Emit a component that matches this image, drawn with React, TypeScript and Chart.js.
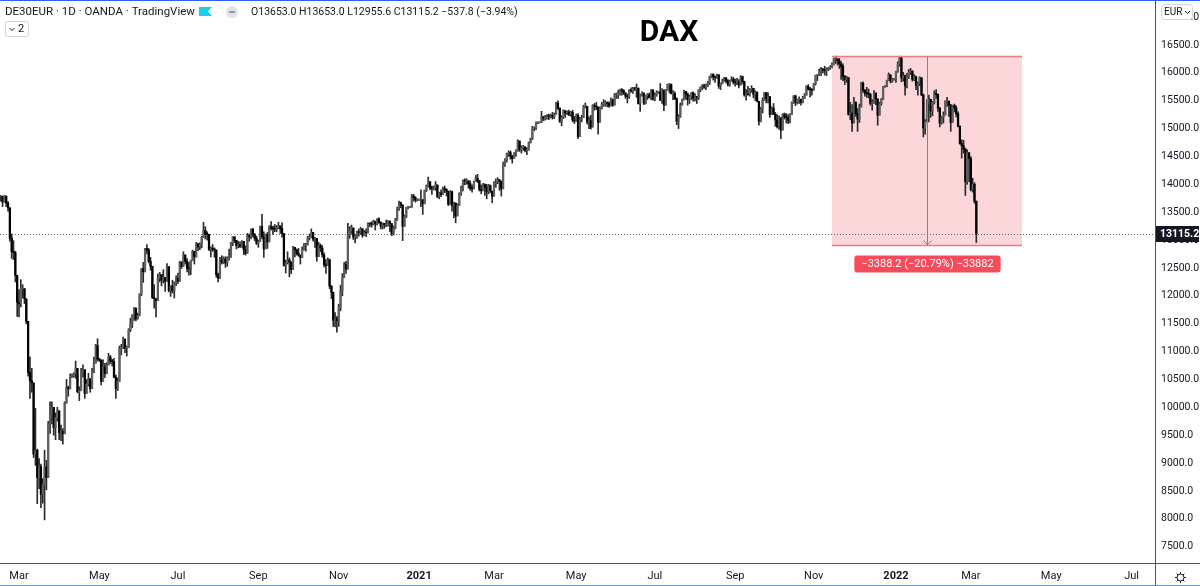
import React, { useEffect, useRef } from "react";
import { Chart, registerables } from "chart.js";

Chart.register(...registerables);

// Daily bars from Mon 17 Feb 2020 (index 0) to Fri 4 Mar 2022 (index 534), one row per week
const closes: number[] = [
  13783, 13681, 13789, 13665, 13579,
  13035, 12790, 12774, 12367, 11890,
  11857, 12128, 12128, 11945, 11542,
  10625, 10475, 10439, 9161, 9232,
  8742, 8939, 8441, 8610, 8929,
  8741, 9700, 9874, 10000, 9633,
  9815, 9936, 9544, 9571, 9525,
  10075, 10356, 10332, 10564, 10564,
  10600, 10697, 10279, 10301, 10626,
  10675, 10249, 10415, 10513, 10336,
  10659, 10796, 11107, 10862, 10850,
  10466, 10730, 10606, 10759, 10904,
  10825, 10819, 10542, 10337, 10465,
  11058, 11075, 11223, 11065, 11074,
  11391, 11504, 11657, 11781, 11587,
  11650, 12021, 12487, 12431, 12848,
  12820, 12614, 12530, 11970, 11949,
  11911, 12315, 12382, 12281, 12331,
  12262, 12523, 12093, 12178, 12089,
  12232, 12311, 12260, 12608, 12528,
  12733, 12617, 12495, 12489, 12633,
  12800, 12697, 12931, 12875, 12920,
  13046, 13171, 13104, 13103, 12838,
  12839, 12835, 12822, 12380, 12313,
  12647, 12600, 12660, 12591, 12674,
  12687, 12947, 13058, 12993, 12901,
  12920, 12881, 12977, 12830, 12764,
  13067, 13061, 13190, 13096, 13033,
  12945, 12974, 13243, 13057, 12842,
  13100, 12968, 13237, 13209, 13202,
  13194, 13218, 13255, 13208, 13116,
  12542, 12594, 12643, 12606, 12469,
  12871, 12826, 12761, 12731, 12689,
  12828, 12906, 12928, 13042, 13051,
  13138, 13018, 13028, 12704, 12909,
  12854, 12736, 12558, 12543, 12646,
  12178, 12064, 11561, 11598, 11556,
  11789, 12088, 12325, 12568, 12480,
  13096, 13164, 13217, 13053, 13077,
  13139, 13133, 13202, 13087, 13137,
  13127, 13292, 13290, 13286, 13336,
  13291, 13382, 13313, 13253, 13299,
  13271, 13278, 13340, 13296, 13114,
  13223, 13362, 13565, 13667, 13630,
  13246, 13418, 13587, 13590, 13590,
  13790, 13761, 13719, 13719, 13719,
  13726, 13651, 13892, 13968, 14049,
  13936, 13925, 13940, 13989, 13787,
  13848, 13816, 13921, 13906, 13873,
  13643, 13870, 13621, 13665, 13433,
  13622, 13835, 13933, 14060, 14057,
  14060, 14011, 13933, 13921, 14050,
  14109, 14064, 13909, 13887, 13993,
  13950, 13865, 13976, 13879, 13786,
  14012, 14039, 14080, 14056, 13920,
  14380, 14437, 14540, 14569, 14502,
  14461, 14557, 14596, 14775, 14621,
  14657, 14662, 14610, 14621, 14749,
  14818, 15008, 15008, 15107, 15107,
  15107, 15212, 15177, 15203, 15234,
  15215, 15234, 15209, 15255, 15460,
  15368, 15130, 15196, 15320, 15280,
  15296, 15249, 15292, 15154, 15136,
  15236, 14856, 15171, 15197, 15400,
  15400, 15120, 15150, 15027, 15416,
  15397, 15386, 15113, 15370, 15438,
  15438, 15465, 15450, 15407, 15520,
  15421, 15603, 15603, 15633, 15693,
  15677, 15640, 15581, 15571, 15693,
  15674, 15730, 15711, 15727, 15448,
  15603, 15637, 15456, 15589, 15607,
  15554, 15691, 15531, 15603, 15650,
  15661, 15511, 15692, 15421, 15688,
  15790, 15790, 15629, 15629, 15540,
  15133, 15216, 15422, 15514, 15669,
  15618, 15519, 15570, 15640, 15544,
  15568, 15555, 15692, 15744, 15761,
  15745, 15770, 15826, 15937, 15977,
  15925, 15921, 15965, 15765, 15808,
  15852, 15906, 15860, 15793, 15852,
  15888, 15835, 15824, 15840, 15781,
  15932, 15843, 15610, 15623, 15609,
  15701, 15722, 15616, 15652, 15491,
  15132, 15348, 15507, 15644, 15532,
  15573, 15249, 15366, 15261, 15157,
  15036, 15195, 14973, 15252, 15207,
  15200, 15147, 15250, 15463, 15587,
  15474, 15516, 15523, 15473, 15543,
  15600, 15757, 15705, 15696, 15689,
  15806, 15954, 15959, 16030, 16054,
  16047, 16041, 16067, 16084, 16094,
  16148, 16248, 16251, 16221, 16160,
  16115, 15937, 15878, 15917, 15257,
  15280, 15100, 15472, 15263, 15169,
  15386, 15813, 15687, 15639, 15623,
  15622, 15454, 15476, 15636, 15532,
  15240, 15447, 15524, 15756, 15756,
  15860, 15964, 15853, 15885, 15885,
  16021, 16152, 16271, 15910, 15948,
  15768, 15942, 16011, 16031, 15883,
  15933, 15773, 15810, 15912, 15603,
  15011, 15123, 15460, 15524, 15318,
  15471, 15619, 15613, 15368, 15100,
  15207, 15242, 15482, 15490, 15425,
  15113, 15412, 15370, 15267, 15042,
  14731, 14694, 14631, 14052, 14567,
  14461, 13905, 14000, 13698, 13115.2,
];

const highs: number[] = [
  13800, 13790, 13800, 13790, 13690,
  13380, 13110, 12990, 12800, 12300,
  12110, 12290, 12200, 12130, 11900,
  11100, 10900, 10700, 10280, 9980,
  9250, 9080, 8980, 8720, 9230,
  9050, 9750, 10100, 10100, 9850,
  9900, 10000, 9800, 9680, 9620,
  10100, 10500, 10380, 10600, 10600,
  10620, 10830, 10600, 10370, 10700,
  10760, 10560, 10500, 10610, 10480,
  10700, 10900, 11130, 11230, 10880,
  10590, 10850, 10790, 10800, 10970,
  10930, 10860, 10880, 10580, 10530,
  11100, 11130, 11260, 11220, 11100,
  11410, 11600, 11660, 11790, 11760,
  11690, 12040, 12490, 12600, 12850,
  12920, 12850, 12690, 12400, 12200,
  11950, 12390, 12420, 12360, 12470,
  12330, 12580, 12500, 12180, 12280,
  12250, 12360, 12410, 12620, 12600,
  12790, 12730, 12670, 12600, 12640,
  12820, 12750, 12960, 12940, 12950,
  13070, 13320, 13240, 13150, 13010,
  12880, 12920, 12860, 12750, 12410,
  12690, 12720, 12700, 12700, 12700,
  12840, 12960, 13060, 13050, 12970,
  12980, 12970, 12990, 12880, 12900,
  13120, 13110, 13200, 13210, 13120,
  13070, 13000, 13250, 13460, 13150,
  13110, 13140, 13260, 13330, 13250,
  13280, 13260, 13320, 13230, 13310,
  13090, 12640, 12790, 12680, 12610,
  12890, 12870, 12840, 12850, 12720,
  12880, 12940, 12940, 13070, 13110,
  13200, 13140, 13050, 12830, 12960,
  12930, 12900, 12770, 12650, 12680,
  12660, 12180, 12050, 11700, 11630,
  11850, 12190, 12400, 12600, 12620,
  13300, 13240, 13270, 13180, 13100,
  13160, 13200, 13230, 13190, 13170,
  13200, 13310, 13300, 13330, 13360,
  13340, 13380, 13400, 13330, 13310,
  13300, 13360, 13350, 13330, 13250,
  13250, 13390, 13590, 13700, 13680,
  13350, 13450, 13590, 13600, 13600,
  13820, 13820, 13780, 13740, 13730,
  13900, 13720, 13900, 13990, 14130,
  14020, 13970, 13970, 14050, 13990,
  13860, 13900, 13950, 13970, 13920,
  13880, 13890, 13880, 13680, 13620,
  13650, 13850, 13970, 14080, 14100,
  14100, 14070, 14060, 13990, 14060,
  14160, 14180, 14070, 13990, 14020,
  14010, 14000, 14000, 13990, 13880,
  14050, 14100, 14120, 14090, 14060,
  14400, 14460, 14560, 14600, 14600,
  14520, 14570, 14620, 14800, 14780,
  14690, 14700, 14680, 14660, 14760,
  14830, 15040, 15030, 15120, 15110,
  15110, 15310, 15220, 15240, 15250,
  15260, 15260, 15290, 15280, 15470,
  15500, 15370, 15230, 15340, 15320,
  15320, 15330, 15310, 15330, 15220,
  15260, 15270, 15200, 15240, 15420,
  15460, 15400, 15210, 15240, 15430,
  15450, 15470, 15390, 15390, 15470,
  15520, 15500, 15480, 15480, 15550,
  15530, 15630, 15640, 15690, 15710,
  15720, 15700, 15640, 15620, 15700,
  15730, 15740, 15740, 15800, 15700,
  15620, 15660, 15640, 15600, 15630,
  15640, 15700, 15700, 15640, 15680,
  15670, 15810, 15720, 15660, 15700,
  15800, 15810, 15800, 15680, 15660,
  15550, 15250, 15460, 15530, 15690,
  15670, 15640, 15600, 15650, 15660,
  15630, 15580, 15700, 15750, 15790,
  15800, 15800, 15850, 15940, 15980,
  15980, 15940, 15980, 15950, 15820,
  15890, 15920, 15920, 15880, 15870,
  15930, 15920, 15890, 15900, 15880,
  15950, 15940, 15850, 15700, 15760,
  15720, 15770, 15690, 15680, 15660,
  15400, 15380, 15550, 15650, 15650,
  15640, 15580, 15390, 15450, 15290,
  15250, 15230, 15200, 15270, 15280,
  15270, 15250, 15270, 15480, 15590,
  15600, 15530, 15570, 15530, 15580,
  15630, 15770, 15790, 15740, 15720,
  15810, 15960, 15970, 16070, 16100,
  16080, 16120, 16090, 16100, 16130,
  16180, 16260, 16300, 16250, 16260,
  16200, 16160, 15950, 15940, 15770,
  15470, 15430, 15560, 15480, 15360,
  15440, 15830, 15840, 15700, 15740,
  15710, 15620, 15520, 15680, 15640,
  15500, 15470, 15540, 15760, 15770,
  15870, 16000, 15970, 15900, 15890,
  16030, 16200, 16300, 16170, 16010,
  15960, 15990, 16060, 16080, 16040,
  15970, 15940, 15840, 15930, 15900,
  15620, 15160, 15520, 15600, 15530,
  15490, 15680, 15700, 15620, 15380,
  15220, 15300, 15500, 15560, 15500,
  15430, 15420, 15440, 15410, 15300,
  15050, 14800, 14790, 14650, 14620,
  14550, 14500, 14110, 14030, 13700,
];

const lows: number[] = [
  13700, 13600, 13680, 13600, 13520,
  12980, 12670, 12650, 12250, 11630,
  11620, 11800, 11960, 11860, 11500,
  10560, 10160, 10270, 9100, 8960,
  8270, 8540, 8200, 8280, 7980,
  8520, 9150, 9530, 9700, 9500,
  9420, 9750, 9420, 9400, 9340,
  9720, 10150, 10200, 10340, 10530,
  10540, 10520, 10260, 10120, 10340,
  10540, 10160, 10300, 10380, 10270,
  10430, 10620, 10790, 10830, 10820,
  10400, 10530, 10530, 10600, 10780,
  10780, 10740, 10530, 10160, 10300,
  10600, 10940, 11050, 10980, 10920,
  11150, 11360, 11430, 11560, 11550,
  11580, 11640, 12000, 12240, 12460,
  12750, 12590, 12460, 11950, 11780,
  11620, 11950, 12250, 12180, 12230,
  12080, 12300, 12070, 11990, 12050,
  11960, 12180, 12220, 12370, 12490,
  12580, 12570, 12430, 12370, 12380,
  12700, 12570, 12780, 12810, 12830,
  12860, 13100, 13020, 13000, 12810,
  12700, 12800, 12690, 12330, 12250,
  12330, 12570, 12580, 12510, 12530,
  12640, 12700, 12900, 12950, 12840,
  12860, 12870, 12870, 12740, 12730,
  12900, 12980, 13020, 13050, 12990,
  12920, 12870, 13000, 13020, 12690,
  12910, 12850, 13030, 13180, 13100,
  13150, 13150, 13200, 13120, 13050,
  12530, 12410, 12570, 12340, 12400,
  12640, 12700, 12730, 12710, 12570,
  12690, 12820, 12800, 12910, 13000,
  13040, 12980, 12870, 12620, 12760,
  12790, 12690, 12520, 12400, 12540,
  12130, 11950, 11450, 11440, 11350,
  11450, 11730, 12000, 12360, 12400,
  12700, 13030, 13120, 13010, 12950,
  13030, 13070, 13110, 13050, 13080,
  13060, 13130, 13240, 13230, 13270,
  13180, 13270, 13300, 13200, 13200,
  13210, 13240, 13250, 13150, 13080,
  13090, 13200, 13350, 13530, 13580,
  12990, 13250, 13400, 13560, 13580,
  13620, 13700, 13680, 13700, 13710,
  13600, 13460, 13650, 13870, 13950,
  13900, 13820, 13900, 13890, 13760,
  13740, 13780, 13840, 13850, 13790,
  13620, 13690, 13520, 13400, 13310,
  13500, 13720, 13800, 13880, 13990,
  14000, 13930, 13890, 13860, 13920,
  14060, 14030, 13880, 13830, 13880,
  13800, 13740, 13830, 13850, 13670,
  13790, 13950, 14010, 13890, 13790,
  13950, 14320, 14400, 14500, 14450,
  14380, 14460, 14500, 14620, 14590,
  14560, 14610, 14580, 14530, 14610,
  14740, 14800, 14960, 14980, 15090,
  15100, 15150, 15140, 15150, 15170,
  15160, 15190, 15170, 15180, 15260,
  15340, 15110, 15050, 15180, 15200,
  15250, 15230, 15220, 15120, 15090,
  15130, 14820, 14930, 15120, 15220,
  15370, 15080, 15000, 14990, 15160,
  15330, 15340, 14900, 15140, 15350,
  15400, 15400, 15390, 15380, 15410,
  15400, 15440, 15540, 15540, 15600,
  15600, 15610, 15540, 15460, 15540,
  15650, 15630, 15680, 15560, 15440,
  15310, 15580, 15430, 15440, 15520,
  15550, 15520, 15510, 15500, 15580,
  15630, 15500, 15450, 15320, 15420,
  15700, 15640, 15620, 15520, 15520,
  15070, 15000, 15200, 15430, 15520,
  15530, 15420, 15450, 15520, 15490,
  15490, 15450, 15520, 15660, 15700,
  15720, 15700, 15750, 15790, 15910,
  15870, 15830, 15900, 15720, 15700,
  15800, 15840, 15820, 15760, 15760,
  15850, 15800, 15760, 15790, 15730,
  15780, 15800, 15580, 15510, 15600,
  15580, 15650, 15550, 15500, 15480,
  15060, 15120, 15280, 15500, 15460,
  15460, 15200, 15250, 15250, 15040,
  15010, 14990, 14820, 15000, 15170,
  15100, 15090, 15100, 15260, 15450,
  15410, 15440, 15450, 15420, 15460,
  15540, 15600, 15690, 15570, 15600,
  15690, 15780, 15860, 15950, 15950,
  16000, 15960, 15950, 16040, 16060,
  16090, 16140, 16170, 16140, 16080,
  15880, 15860, 15790, 15830, 15240,
  15160, 14950, 15170, 15220, 14950,
  15110, 15400, 15650, 15580, 15560,
  15550, 15420, 15330, 15450, 15430,
  15060, 15250, 15420, 15520, 15740,
  15750, 15860, 15820, 15830, 15870,
  15830, 16010, 16120, 15840, 15850,
  15600, 15730, 15900, 15970, 15850,
  15860, 15700, 15600, 15770, 15590,
  14850, 14900, 15120, 15120, 15200,
  15230, 15440, 15540, 15310, 15030,
  15080, 15100, 15260, 15400, 15220,
  14950, 15120, 15300, 15210, 15030,
  14720, 14470, 14560, 13800, 14000,
  14050, 13880, 13860, 13660, 12956,
];

// Time axis: bar index of the first session of each labelled month
const monthTickIndex: number[] = [10, 54, 97, 141, 185, 229, 270, 315, 358, 402, 445, 490, 531, 575, 619];
const monthTickLabel: string[] = ["Mar", "May", "Jul", "Sep", "Nov", "2021", "Mar", "May", "Jul", "Sep", "Nov", "2022", "Mar", "May", "Jul"];
const priceTicks: number[] = [7500, 8000, 8500, 9000, 9500, 10000, 10500, 11000, 11500, 12000, 12500, 13000, 13500, 14000, 14500, 15000, 15500, 16000, 16500, 17000];

const lastPrice = 13115.2;
const rangeTop = 16300.8;
const rangeBottom = 12912.6;
const rangeStartIndex = 455;
const rangeEndIndex = 559;
const rangeMidIndex = 507;
const rangeLabel = "−3388.2 (−20.79%) −33882";
const titleText = "DAX";
const headerSymbol = "DE30EUR · 1D · OANDA · TradingView";
const headerOHLC = "O13653.0 H13653.0 L12955.6 C13115.2 −537.8 (−3.94%)";

const FONT = "Roboto, 'Liberation Sans', Arial, sans-serif";
const TEXT = "#131722";

function roundRect(ctx: CanvasRenderingContext2D, x: number, y: number, w: number, h: number, r: number) {
  ctx.beginPath();
  ctx.moveTo(x + r, y);
  ctx.lineTo(x + w - r, y);
  ctx.quadraticCurveTo(x + w, y, x + w, y + r);
  ctx.lineTo(x + w, y + h - r);
  ctx.quadraticCurveTo(x + w, y + h, x + w - r, y + h);
  ctx.lineTo(x + r, y + h);
  ctx.quadraticCurveTo(x, y + h, x, y + h - r);
  ctx.lineTo(x, y + r);
  ctx.quadraticCurveTo(x, y, x + r, y);
  ctx.closePath();
}

const decorPlugin = {
  id: "decor",
  beforeDraw(chart: any) {
    const ctx = chart.ctx as CanvasRenderingContext2D;
    ctx.save();
    ctx.fillStyle = "#ffffff";
    ctx.fillRect(0, 0, chart.width, chart.height);
    ctx.restore();
  },
  beforeDatasetsDraw(chart: any) {
    const ctx = chart.ctx as CanvasRenderingContext2D;
    const xs = chart.scales.x;
    const ys = chart.scales.y;
    const x1 = xs.getPixelForValue(rangeStartIndex);
    const x2 = xs.getPixelForValue(rangeEndIndex);
    const y1 = ys.getPixelForValue(rangeTop);
    const y2 = ys.getPixelForValue(rangeBottom);
    ctx.save();
    ctx.fillStyle = "rgba(242, 54, 69, 0.2)";
    ctx.fillRect(x1, y1, x2 - x1, y2 - y1);
    // last price dotted line
    const yp = Math.round(ys.getPixelForValue(lastPrice)) + 0.5;
    ctx.strokeStyle = "#6a6d78";
    ctx.lineWidth = 1;
    ctx.setLineDash([1, 2]);
    ctx.beginPath();
    ctx.moveTo(chart.chartArea.left, yp);
    ctx.lineTo(chart.chartArea.right, yp);
    ctx.stroke();
    ctx.restore();
  },
  afterDatasetsDraw(chart: any) {
    const ctx = chart.ctx as CanvasRenderingContext2D;
    const xs = chart.scales.x;
    const ys = chart.scales.y;
    const x1 = xs.getPixelForValue(rangeStartIndex);
    const x2 = xs.getPixelForValue(rangeEndIndex);
    const xm = Math.round(xs.getPixelForValue(rangeMidIndex)) + 0.5;
    const y1 = Math.round(ys.getPixelForValue(rangeTop)) + 0.5;
    const y2 = Math.round(ys.getPixelForValue(rangeBottom)) + 0.5;
    ctx.save();
    ctx.strokeStyle = "#f07a84";
    ctx.lineWidth = 1.5;
    ctx.beginPath();
    ctx.moveTo(x1, y1);
    ctx.lineTo(x2, y1);
    ctx.moveTo(x1, y2);
    ctx.lineTo(x2, y2);
    ctx.stroke();
    ctx.strokeStyle = "#f0525f";
    ctx.lineWidth = 1;
    ctx.beginPath();
    ctx.moveTo(xm, y1);
    ctx.lineTo(xm, y2);
    ctx.moveTo(xm - 4, y2 - 5);
    ctx.lineTo(xm, y2 - 1);
    ctx.lineTo(xm + 4, y2 - 5);
    ctx.stroke();

    // range label
    ctx.font = `11px ${FONT}`;
    const tw = ctx.measureText(rangeLabel).width;
    const bw = tw + 14;
    const by = y2 + 10;
    ctx.fillStyle = "#f44c5a";
    roundRect(ctx, xm - bw / 2, by, bw, 17, 3);
    ctx.fill();
    ctx.fillStyle = "#ffffff";
    ctx.textAlign = "center";
    ctx.textBaseline = "middle";
    ctx.fillText(rangeLabel, xm, by + 8.5);
    ctx.restore();
  },
  afterDraw(chart: any) {
    const ctx = chart.ctx as CanvasRenderingContext2D;
    const W = chart.width;
    const H = chart.height;
    const area = chart.chartArea;
    const ys = chart.scales.y;
    ctx.save();

    // axis separators
    ctx.strokeStyle = "#50535e";
    ctx.lineWidth = 1;
    ctx.beginPath();
    ctx.moveTo(Math.round(area.right) + 0.5, 0);
    ctx.lineTo(Math.round(area.right) + 0.5, H);
    ctx.moveTo(0, Math.round(area.bottom) + 0.5);
    ctx.lineTo(W, Math.round(area.bottom) + 0.5);
    ctx.stroke();

    // last price label on the price axis
    const yp = ys.getPixelForValue(lastPrice);
    ctx.fillStyle = "#131722";
    ctx.fillRect(Math.round(area.right) + 1, Math.round(yp) - 8, W - Math.round(area.right) - 2, 16);
    ctx.fillStyle = "#ffffff";
    ctx.font = `bold 10.5px ${FONT}`;
    ctx.textAlign = "left";
    ctx.textBaseline = "middle";
    ctx.fillText(lastPrice.toFixed(1), Math.round(area.right) + 5, Math.round(yp) + 0.5);

    // EUR button
    ctx.fillStyle = "#ffffff";
    roundRect(ctx, 1161.5, 4.5, 31, 15, 3);
    ctx.fill();
    ctx.strokeStyle = "#d1d4dc";
    ctx.stroke();
    ctx.fillStyle = TEXT;
    ctx.font = `10px ${FONT}`;
    ctx.fillText("EUR", 1164, 12.5);
    ctx.strokeStyle = TEXT;
    ctx.beginPath();
    ctx.moveTo(1185, 11);
    ctx.lineTo(1187.5, 13.5);
    ctx.lineTo(1190, 11);
    ctx.stroke();

    // gear icon
    const gx = 1180.5, gy = 577.5;
    ctx.strokeStyle = TEXT;
    ctx.lineWidth = 1;
    ctx.beginPath();
    ctx.arc(gx, gy, 3.5, 0, Math.PI * 2);
    ctx.stroke();
    ctx.beginPath();
    for (let k = 0; k < 8; k++) {
      const a = (k * Math.PI) / 4;
      ctx.moveTo(gx + Math.cos(a) * 3.5, gy + Math.sin(a) * 3.5);
      ctx.lineTo(gx + Math.cos(a) * 5.5, gy + Math.sin(a) * 5.5);
    }
    ctx.stroke();

    // header
    ctx.fillStyle = TEXT;
    ctx.font = `11.5px ${FONT}`;
    ctx.textAlign = "left";
    ctx.textBaseline = "middle";
    ctx.fillText(headerSymbol, 5, 12.5);
    // flag icon
    const fx = 199;
    ctx.fillStyle = "#16d0ec";
    ctx.beginPath();
    ctx.moveTo(fx, 7);
    ctx.lineTo(fx + 13, 7);
    ctx.lineTo(fx + 9, 11.5);
    ctx.lineTo(fx + 13, 16);
    ctx.lineTo(fx, 16);
    ctx.closePath();
    ctx.fill();
    // minus circle
    ctx.fillStyle = "#e0e3eb";
    ctx.beginPath();
    ctx.arc(232, 12, 6, 0, Math.PI * 2);
    ctx.fill();
    ctx.strokeStyle = "#787b86";
    ctx.lineWidth = 1.5;
    ctx.beginPath();
    ctx.moveTo(229, 12);
    ctx.lineTo(235, 12);
    ctx.stroke();
    // OHLC
    ctx.fillStyle = TEXT;
    ctx.font = `10.5px ${FONT}`;
    ctx.fillText(headerOHLC, 251, 12.5);

    // collapse box "2"
    ctx.strokeStyle = "#d1d4dc";
    ctx.lineWidth = 1;
    roundRect(ctx, 5.5, 21.5, 23, 15, 2);
    ctx.stroke();
    ctx.strokeStyle = TEXT;
    ctx.beginPath();
    ctx.moveTo(9.5, 28);
    ctx.lineTo(12, 30.5);
    ctx.lineTo(14.5, 28);
    ctx.stroke();
    ctx.fillStyle = TEXT;
    ctx.font = `11px ${FONT}`;
    ctx.fillText("2", 18, 29.5);

    // title
    ctx.font = `bold 30px ${FONT}`;
    ctx.textAlign = "center";
    ctx.fillStyle = "#000000";
    ctx.fillText(titleText, 669, 33);

    // blue frame lines
    ctx.fillStyle = "#2962ff";
    ctx.fillRect(0, 0, W, 1);
    ctx.fillStyle = "#5b8def";
    ctx.fillRect(0, H - 1, W, 1);
    ctx.restore();
  },
};

export default function App() {
  const ref = useRef<HTMLCanvasElement | null>(null);

  useEffect(() => {
    const canvas = ref.current;
    if (!canvas) return;
    const opens = closes.map((c, i) => (i === 0 ? c : closes[i - 1]));
    const wickData = closes.map((c, i) => ({
      x: i,
      y: [Math.min(lows[i], opens[i], c), Math.max(highs[i], opens[i], c)],
    }));
    const bodyData = closes.map((c, i) => ({ x: i, y: [opens[i], c] }));
    const bodyColors = closes.map((c, i) => (c >= opens[i] ? "#5f5f5f" : "#000000"));

    const chart = new Chart(canvas, {
      type: "bar",
      data: {
        datasets: [
          {
            label: "wick",
            data: wickData as any,
            backgroundColor: "#2b2b2b",
            barThickness: 1,
            grouped: false,
            order: 2,
          } as any,
          {
            label: "body",
            data: bodyData as any,
            backgroundColor: bodyColors,
            barThickness: 1.6,
            minBarLength: 1,
            grouped: false,
            order: 1,
          } as any,
        ],
      },
      options: {
        responsive: false,
        animation: false,
        devicePixelRatio: 1,
        events: [],
        layout: { padding: { top: 2, left: 0, right: 0, bottom: 0 } },
        plugins: {
          legend: { display: false },
          tooltip: { enabled: false },
          title: { display: false },
        },
        scales: {
          x: {
            type: "linear",
            position: "bottom",
            min: -0.4,
            max: 631.8,
            offset: false,
            grid: { display: false, drawTicks: false },
            border: { display: false },
            afterBuildTicks: (s: any) => {
              s.ticks = monthTickIndex.map((v) => ({ value: v }));
            },
            afterFit: (s: any) => {
              s.height = 23;
              s.paddingLeft = 0;
              s.paddingRight = 0;
              s.paddingTop = 0;
              s.paddingBottom = 0;
            },
            ticks: {
              autoSkip: false,
              maxRotation: 0,
              minRotation: 0,
              padding: 7,
              color: TEXT,
              font: (c: any) => ({
                family: FONT,
                size: 11,
                weight: /^\d{4}$/.test(monthTickLabel[c.index] || "") ? "bold" : "normal",
              }),
              callback: (_v: any, i: number) => monthTickLabel[i],
            },
          } as any,
          y: {
            type: "linear",
            position: "right",
            min: 7207,
            max: 17271,
            grid: { display: false, drawTicks: false },
            border: { display: false },
            afterBuildTicks: (s: any) => {
              s.ticks = priceTicks.map((v) => ({ value: v }));
            },
            afterFit: (s: any) => {
              s.width = 45;
              s.paddingLeft = 0;
              s.paddingRight = 0;
              s.paddingTop = 0;
              s.paddingBottom = 0;
            },
            ticks: {
              padding: 6,
              color: TEXT,
              font: { family: FONT, size: 10.5 },
              callback: (v: any) => Number(v).toFixed(1),
            },
          } as any,
        },
      },
      plugins: [decorPlugin],
    });
    return () => chart.destroy();
  }, []);

  return (
    <div style={{ position: "fixed", left: 0, top: 0, width: 1200, height: 586, background: "#ffffff" }}>
      <canvas ref={ref} width={1200} height={586} style={{ display: "block", width: 1200, height: 586 }} />
    </div>
  );
}
